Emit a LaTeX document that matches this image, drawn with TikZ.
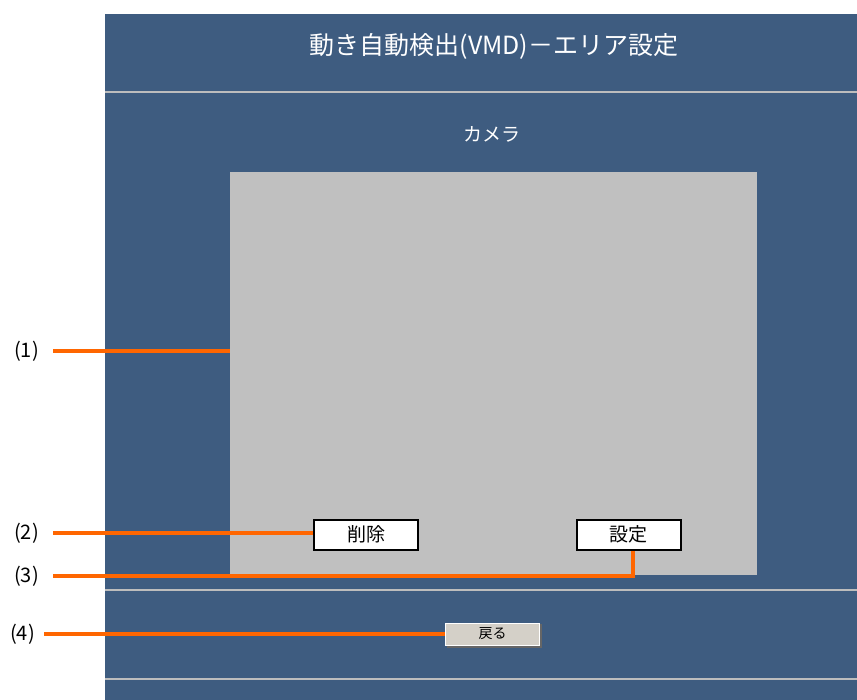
\documentclass[tikz,border=0pt]{standalone}
\usepackage{fontspec}
\setmainfont{Noto Sans CJK JP}
\usetikzlibrary{positioning}

\definecolor{panelblue}{HTML}{3E5C80}
\definecolor{viewgray}{HTML}{C0C0C0}
\definecolor{rulegray}{HTML}{BDBDBD}
\definecolor{calloutorange}{HTML}{FF6600}
\definecolor{btngray}{HTML}{D4D0C8}

\tikzstyle{callout}=[-, line width=4pt, calloutorange]
\tikzstyle{numlabel}=[anchor=east, inner sep=0pt, font=\fontsize{20}{20}\selectfont]
\tikzstyle{whitebtn}=[rectangle, draw=black, line width=2pt, fill=white, minimum width=104pt, minimum height=30pt, inner sep=0pt, font=\fontsize{19}{19}\selectfont]
\tikzstyle{separator}=[-, line width=2pt, rulegray]

\begin{document}
\begin{tikzpicture}[x=1pt, y=-1pt]
    \useasboundingbox (0,0) rectangle (857,700);
    % panel background and separators
    \fill[panelblue] (105,14) rectangle (857,700);
    \draw[separator] (105,92) -- (857,92);
    \draw[separator] (105,590) -- (857,590);
    \draw[separator] (105,679) -- (857,679);

    \node (title) at (494,46) [text=white, font=\fontsize{25}{25}\selectfont] {動き自動検出(VMD)－エリア設定};
    \node (camera) at (492,134) [text=white, font=\fontsize{19}{19}\selectfont] {カメラ};

    % camera view and buttons
    \node (view) at (493.5,373.5) [rectangle, fill=viewgray, minimum width=527pt, minimum height=403pt, inner sep=0pt] {};
    \node (delete) at (366,534.5) [whitebtn] {削除};
    \node (setting) at (628.5,534.5) [whitebtn] {設定};
    \fill[black!60] (447,624) rectangle (542,648);
    \node (back) at (492.5,634) [rectangle, fill=btngray, draw=white, line width=0.6pt, minimum width=94pt, minimum height=22pt, inner sep=0pt, font=\fontsize{14}{14}\selectfont] {戻る};

    % numbered callouts
    \node (l1) at (39,351) [numlabel] {(1)};
    \node (l2) at (39,533) [numlabel] {(2)};
    \node (l3) at (39,576) [numlabel] {(3)};
    \node (l4) at (35,634) [numlabel] {(4)};

    \draw[callout, shorten <=14pt] (l1.east) -- (l1.east -| view.west);
    \draw[callout, shorten <=14pt] (l2.east) -- (l2.east -| delete.west);
    \draw[callout, shorten <=14pt] (l3.east) -| ([xshift=4pt]setting.south);
    \draw[callout, shorten <=9pt] (l4.east) -- (l4.east -| back.west);
\end{tikzpicture}
\end{document}
